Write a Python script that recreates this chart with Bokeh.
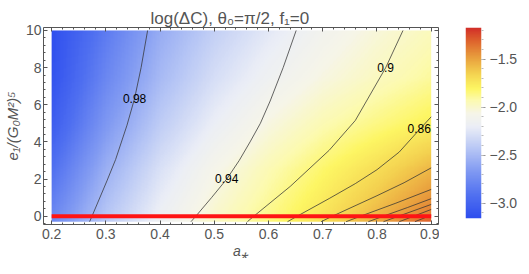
import numpy as np
from bokeh.plotting import figure
from bokeh.layouts import row
from bokeh.models import (LinearColorMapper, SingleIntervalTicker, LinearAxis,
                          CustomJSTickFormatter, Range1d)
from bokeh.core.properties import value
from bokeh.embed import file_html
from bokeh.resources import INLINE

# ---------------- data ----------------
title_text = "log(ΔC), θ₀=π/2, f₁=0"
x_label = "a⁎"
y_label = "e₁/(G₀M²)⁵"

# log(ΔC) estimated on a coarse grid (rows = e1 values, columns = a* values)
a_nodes = [0.2, 0.3, 0.4, 0.5, 0.6, 0.7, 0.8, 0.9]
e_nodes = [-0.3, 0.0, 2.5, 5.0, 7.5, 10.0]
logdc_e_m03 = [-2.76, -2.41, -2.16, -1.98, -1.85, -1.70, -1.52, -1.30]
logdc_e_0 = [-2.78, -2.43, -2.18, -2.00, -1.87, -1.73, -1.56, -1.38]
logdc_e_25 = [-2.92, -2.55, -2.28, -2.08, -1.94, -1.82, -1.70, -1.56]
logdc_e_5 = [-3.05, -2.68, -2.40, -2.20, -2.05, -1.94, -1.86, -1.78]
logdc_e_75 = [-3.12, -2.78, -2.50, -2.30, -2.16, -2.05, -1.97, -1.90]
logdc_e_10 = [-3.15, -2.85, -2.57, -2.38, -2.24, -2.12, -2.03, -1.96]

# contour lines
c098_x = [0.270, 0.2745, 0.302, 0.318, 0.339, 0.353, 0.365, 0.377]
c098_y = [-0.3, 0.0, 1.9, 3.05, 4.9, 6.34, 8.0, 10.0]
c094_x = [0.457, 0.466, 0.495, 0.523, 0.546, 0.566, 0.585, 0.603, 0.627, 0.651]
c094_y = [-0.3, 0.0, 1.0, 2.0, 3.0, 4.0, 5.0, 6.2, 8.0, 10.0]
c090_x = [0.561, 0.573, 0.640, 0.712, 0.760, 0.816, 0.848]
c090_y = [-0.3, 0.0, 1.6, 3.55, 5.15, 7.99, 10.0]
c086_x = [0.635, 0.653, 0.712, 0.760, 0.800, 0.841, 0.878, 0.900]
c086_y = [-0.3, 0.0, 0.95, 1.75, 2.5, 3.45, 4.65, 5.35]
c082_x = [0.697, 0.718, 0.800, 0.850, 0.900]
c082_y = [-0.3, 0.0, 1.1, 1.8, 2.6]
c078_x = [0.743, 0.770, 0.835, 0.900]
c078_y = [-0.3, 0.0, 0.7, 1.44]
c074_x = [0.784, 0.812, 0.856, 0.900]
c074_y = [-0.3, 0.0, 0.46, 0.94]
c070_x = [0.812, 0.840, 0.900]
c070_y = [-0.3, 0.0, 0.63]
c066_x = [0.841, 0.868, 0.900]
c066_y = [-0.3, 0.0, 0.36]
c062_x = [0.870, 0.900]
c062_y = [-0.3, 0.05]

label_x = [0.353, 0.523, 0.816, 0.878]
label_y = [6.34, 2.01, 7.99, 4.71]
label_text = ["0.98", "0.94", "0.9", "0.86"]

# red line at e1 = 0
red_x = [0.2, 0.9]
red_y = [0.0, 0.0]

# colour scale limits
c_low, c_high = -3.16, -1.17

# ---------------- styling ----------------
anchors = [
    (0.00, (46, 78, 238)), (0.12, (80, 112, 240)), (0.25, (130, 155, 242)),
    (0.37, (185, 200, 245)), (0.48, (235, 238, 246)), (0.55, (246, 245, 232)),
    (0.62, (252, 250, 175)), (0.68, (253, 246, 100)), (0.76, (244, 210, 80)),
    (0.85, (232, 155, 60)), (0.93, (222, 100, 45)), (1.00, (210, 45, 40)),
]
pos = np.array([a[0] for a in anchors])
cols = np.array([a[1] for a in anchors], dtype=float)
tt = np.linspace(0, 1, 256)
palette = ["#%02x%02x%02x" % tuple(int(round(np.interp(t, pos, cols[:, k]))) for k in range(3)) for t in tt]
mapper = LinearColorMapper(palette=palette, low=c_low, high=c_high)

# smooth rendering of the read grid
grid = np.array([logdc_e_m03, logdc_e_0, logdc_e_25, logdc_e_5, logdc_e_75, logdc_e_10])
fx = np.linspace(a_nodes[0], a_nodes[-1], 281)
fy = np.linspace(e_nodes[0], e_nodes[-1], 207)
tmp = np.array([np.interp(fx, a_nodes, r) for r in grid])
field = np.array([np.interp(fy, e_nodes, tmp[:, j]) for j in range(len(fx))]).T

FONT = "Liberation Sans"
GRAY = "#555555"

p = figure(frame_width=395, frame_height=197,
           x_range=Range1d(0.185, 0.9135), y_range=Range1d(-0.45, 10.16),
           output_backend="svg", toolbar_location=None,
           min_border_left=37, min_border_right=1, min_border_top=24, min_border_bottom=37)
p.title.text = title_text
p.title.align = "left"
p.title.offset = 107
p.title.text_font = FONT
p.title.text_font_size = "17px"
p.title.text_font_style = "normal"
p.title.text_color = GRAY
p.title.standoff = 0
p.grid.visible = False
p.outline_line_color = "#555555"
p.outline_line_width = 1
p.background_fill_color = "white"
p.border_fill_color = "white"

p.image(image=[field], x=a_nodes[0], y=e_nodes[0], dw=a_nodes[-1] - a_nodes[0],
        dh=e_nodes[-1] - e_nodes[0], color_mapper=mapper)

for cx, cy in [(c098_x, c098_y), (c094_x, c094_y), (c090_x, c090_y), (c086_x, c086_y),
               (c082_x, c082_y), (c078_x, c078_y), (c074_x, c074_y), (c070_x, c070_y),
               (c066_x, c066_y), (c062_x, c062_y)]:
    p.line(cx, cy, line_color="#333333", line_alpha=0.75, line_width=1)

p.line(red_x, red_y, line_color="#ff1414", line_width=4)

p.text(x=label_x, y=label_y, text=label_text, text_align="center", text_baseline="middle",
       text_font=value(FONT), text_font_size=value("12px"), text_color="black")

bottom = p.below[0]
left = p.left[0]
bottom.ticker = SingleIntervalTicker(interval=0.1, num_minor_ticks=5)
left.ticker = SingleIntervalTicker(interval=2, num_minor_ticks=5)
top = LinearAxis(ticker=SingleIntervalTicker(interval=0.1, num_minor_ticks=5),
                 formatter=CustomJSTickFormatter(code="return ''"))
right = LinearAxis(ticker=SingleIntervalTicker(interval=2, num_minor_ticks=5),
                   formatter=CustomJSTickFormatter(code="return ''"))
p.add_layout(top, "above")
p.add_layout(right, "right")
for ax in [bottom, left, top, right]:
    ax.axis_line_color = None
    ax.major_tick_in = 4
    ax.major_tick_out = 0
    ax.minor_tick_in = 2
    ax.minor_tick_out = 0
    ax.major_tick_line_color = GRAY
    ax.minor_tick_line_color = GRAY
for ax in [top, right]:
    ax.major_label_text_font_size = "0px"
    ax.major_label_standoff = 0
    ax.axis_label = None
for ax in [bottom, left]:
    ax.major_label_text_font = FONT
    ax.major_label_text_font_size = "14px"
    ax.major_label_text_color = GRAY
    ax.axis_label_text_font = FONT
    ax.axis_label_text_font_style = "italic"
    ax.axis_label_text_color = GRAY
bottom.axis_label = x_label
left.axis_label = y_label
bottom.axis_label_text_font_size = "14px"
left.axis_label_text_font_size = "15px"
bottom.major_label_standoff = 4
bottom.axis_label_standoff = 1
left.major_label_standoff = 2
left.axis_label_standoff = 2

# colour bar as its own small figure
cb = figure(frame_width=16, frame_height=191, x_range=Range1d(0, 1), y_range=Range1d(c_low, c_high),
            x_axis_location=None, y_axis_location="right", output_backend="svg",
            toolbar_location=None, min_border_left=26, min_border_right=38,
            min_border_top=27, min_border_bottom=40)
cb.outline_line_color = None
cb.grid.visible = False
grad = np.linspace(c_low, c_high, 256)[:, None]
cb.image(image=[grad], x=0, y=c_low, dw=1, dh=c_high - c_low, color_mapper=mapper)
cax = cb.yaxis[0]
cax.ticker = SingleIntervalTicker(interval=0.5, num_minor_ticks=5)
cax.formatter = CustomJSTickFormatter(code="return tick.toFixed(1).replace('-', '\u2212')")
cax.axis_line_color = None
cax.major_tick_in = 0
cax.major_tick_out = 4
cax.minor_tick_in = 0
cax.minor_tick_out = 2
cax.major_tick_line_color = "#999999"
cax.minor_tick_line_color = "#bbbbbb"
cax.major_label_text_font = FONT
cax.major_label_text_font_size = "14px"
cax.major_label_text_color = GRAY
cax.major_label_standoff = 4

layout = row(p, cb)
open("out.html", "w").write(file_html(layout, INLINE))
